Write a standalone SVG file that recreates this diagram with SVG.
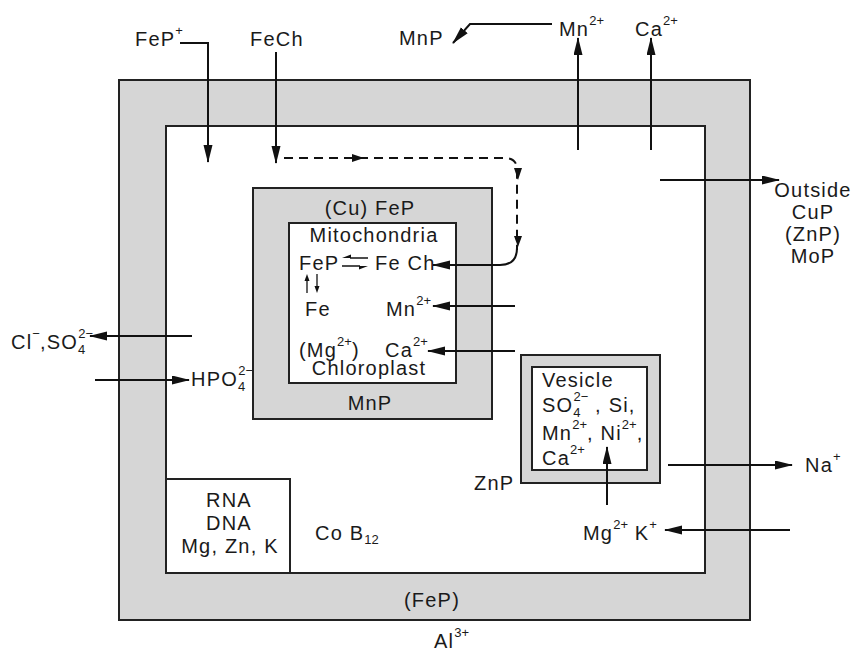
<svg xmlns="http://www.w3.org/2000/svg" width="857" height="652" viewBox="0 0 857 652">
<style>
text{font-family:"Liberation Sans",Arial,sans-serif;font-size:20px;fill:#1a1a1a;letter-spacing:1.2px}
.m{text-anchor:middle}
.s{font-size:13px;letter-spacing:0}
.box{stroke:#222;stroke-width:2}
.g{fill:#d6d6d6}
.w{fill:#fff}
.ln{fill:none;stroke:#111;stroke-width:2}
.d{stroke-dasharray:9 6}
</style>
<defs>
<marker id="ah" markerUnits="userSpaceOnUse" markerWidth="18" markerHeight="10" refX="17" refY="4.5" orient="auto">
<path d="M0,0 L18,4.5 L0,9 z" fill="#111"/>
</marker>
</defs>
<rect width="857" height="652" fill="#fff"/>

<g id="cell-wall">
<rect class="box g" x="119" y="80" width="631" height="540"/>
<rect class="box w" x="166" y="126" width="539" height="447"/>
<text class="m" x="432" y="607">(FeP)</text>
</g>

<g id="nucleus">
<rect class="box w" x="166" y="479" width="124" height="94"/>
<text class="m" x="229" y="507">RNA</text>
<text class="m" x="229" y="530">DNA</text>
<text class="m" x="230" y="553">Mg, Zn, K</text>
</g>

<g id="organelle">
<rect class="box g" x="253" y="188" width="239" height="231"/>
<rect class="box w" x="289" y="223" width="167" height="160"/>
<text class="m" x="370" y="215">(Cu) FeP</text>
<text class="m" x="374" y="242">Mitochondria</text>
<text x="299" y="270">FeP</text>
<text x="375" y="270">Fe Ch</text>
<text x="305" y="316">Fe</text>
<text x="386" y="316">Mn<tspan class="s" dy="-11">2+</tspan></text>
<text x="299" y="357">(Mg<tspan class="s" dy="-11">2+</tspan><tspan dy="11">)</tspan></text>
<text x="385" y="357">Ca<tspan class="s" dy="-11">2+</tspan></text>
<text class="m" x="369" y="375">Chloroplast</text>
<text class="m" x="370" y="410">MnP</text>
</g>

<g id="vesicle">
<rect class="box g" x="521" y="355" width="139" height="128"/>
<rect class="box w" x="532" y="367" width="115" height="103"/>
<text x="542" y="387">Vesicle</text>
<text x="542" y="412">SO<tspan class="s" dy="5">4</tspan><tspan class="s" dx="-7" dy="-16">2−</tspan><tspan dy="11"> , Si,</tspan></text>
<text x="542" y="440">Mn<tspan class="s" dy="-11">2+</tspan><tspan dy="11">, Ni</tspan><tspan class="s" dy="-11">2+</tspan><tspan dy="11">,</tspan></text>
<text x="542" y="465">Ca<tspan class="s" dy="-11">2+</tspan></text>
<text x="474" y="490">ZnP</text>
</g>

<g id="labels">
<text x="135" y="46">FeP<tspan class="s" dy="-11">+</tspan></text>
<text x="250" y="46">FeCh</text>
<text x="399" y="45">MnP</text>
<text x="559" y="36">Mn<tspan class="s" dy="-11">2+</tspan></text>
<text x="635" y="36">Ca<tspan class="s" dy="-11">2+</tspan></text>
<text class="m" x="813" y="197">Outside</text>
<text class="m" x="813" y="219">CuP</text>
<text class="m" x="813" y="241">(ZnP)</text>
<text class="m" x="813" y="263">MoP</text>
<text x="11" y="349">Cl<tspan class="s" dy="-11">−</tspan><tspan dy="11">,SO</tspan><tspan class="s" dy="5">4</tspan><tspan class="s" dx="-7" dy="-16">2−</tspan></text>
<text x="191" y="386">HPO<tspan class="s" dy="5">4</tspan><tspan class="s" dx="-7" dy="-16">2−</tspan></text>
<text x="805" y="472">Na<tspan class="s" dy="-11">+</tspan></text>
<text x="583" y="540">Mg<tspan class="s" dy="-11">2+</tspan><tspan dy="11"> K</tspan><tspan class="s" dy="-11">+</tspan></text>
<text x="315" y="540">Co B<tspan class="s" dy="4">12</tspan></text>
<text x="434" y="648">Al<tspan class="s" dy="-11">3+</tspan></text>
</g>

<g id="connectors">
<path class="ln" d="M180,43 H208 V162" marker-end="url(#ah)"/>
<path class="ln" d="M276,52 V163" marker-end="url(#ah)"/>
<path class="ln" d="M552,24 H470 L453,43" marker-end="url(#ah)"/>
<path class="ln" d="M578,150 V38" marker-end="url(#ah)"/>
<path class="ln" d="M651,150 V38" marker-end="url(#ah)"/>
<path class="ln d" d="M284,158 H505 Q517,158 517,170 V250"/>
<path d="M352,154 L364,158 L352,162 z" fill="#111"/>
<path d="M514,168 L518,180 L522,168 z" fill="#111"/>
<path d="M514,236 L518,247 L522,236 z" fill="#111"/>
<path class="ln" d="M517,248 Q517,265 500,265 H433" marker-end="url(#ah)"/>
<path class="ln" d="M660,180 H779" marker-end="url(#ah)"/>
<path class="ln" d="M515,306 H433" marker-end="url(#ah)"/>
<path class="ln" d="M515,351 H428" marker-end="url(#ah)"/>
<path class="ln" d="M192,336 H90" marker-end="url(#ah)"/>
<path class="ln" d="M95,380 H189" marker-end="url(#ah)"/>
<path class="ln" d="M607,505 V447" marker-end="url(#ah)"/>
<path class="ln" d="M668,465 H792" marker-end="url(#ah)"/>
<path class="ln" d="M790,530 H665" marker-end="url(#ah)"/>
<path class="ln" style="stroke-width:1.5" d="M350,258 H368"/>
<path d="M342,258 L351,254.5 L351,258 z" fill="#111"/>
<path class="ln" style="stroke-width:1.5" d="M342,266 H360"/>
<path d="M368,266 L359,269.5 L359,266 z" fill="#111"/>
<path class="ln" style="stroke-width:1.3" d="M307,293 V280"/>
<path d="M304.5,281 L307,274 L309.5,281 z" fill="#111"/>
<path class="ln" style="stroke-width:1.3" d="M317,274 V287"/>
<path d="M314.5,286 L317,293 L319.5,286 z" fill="#111"/>
</g>
</svg>
